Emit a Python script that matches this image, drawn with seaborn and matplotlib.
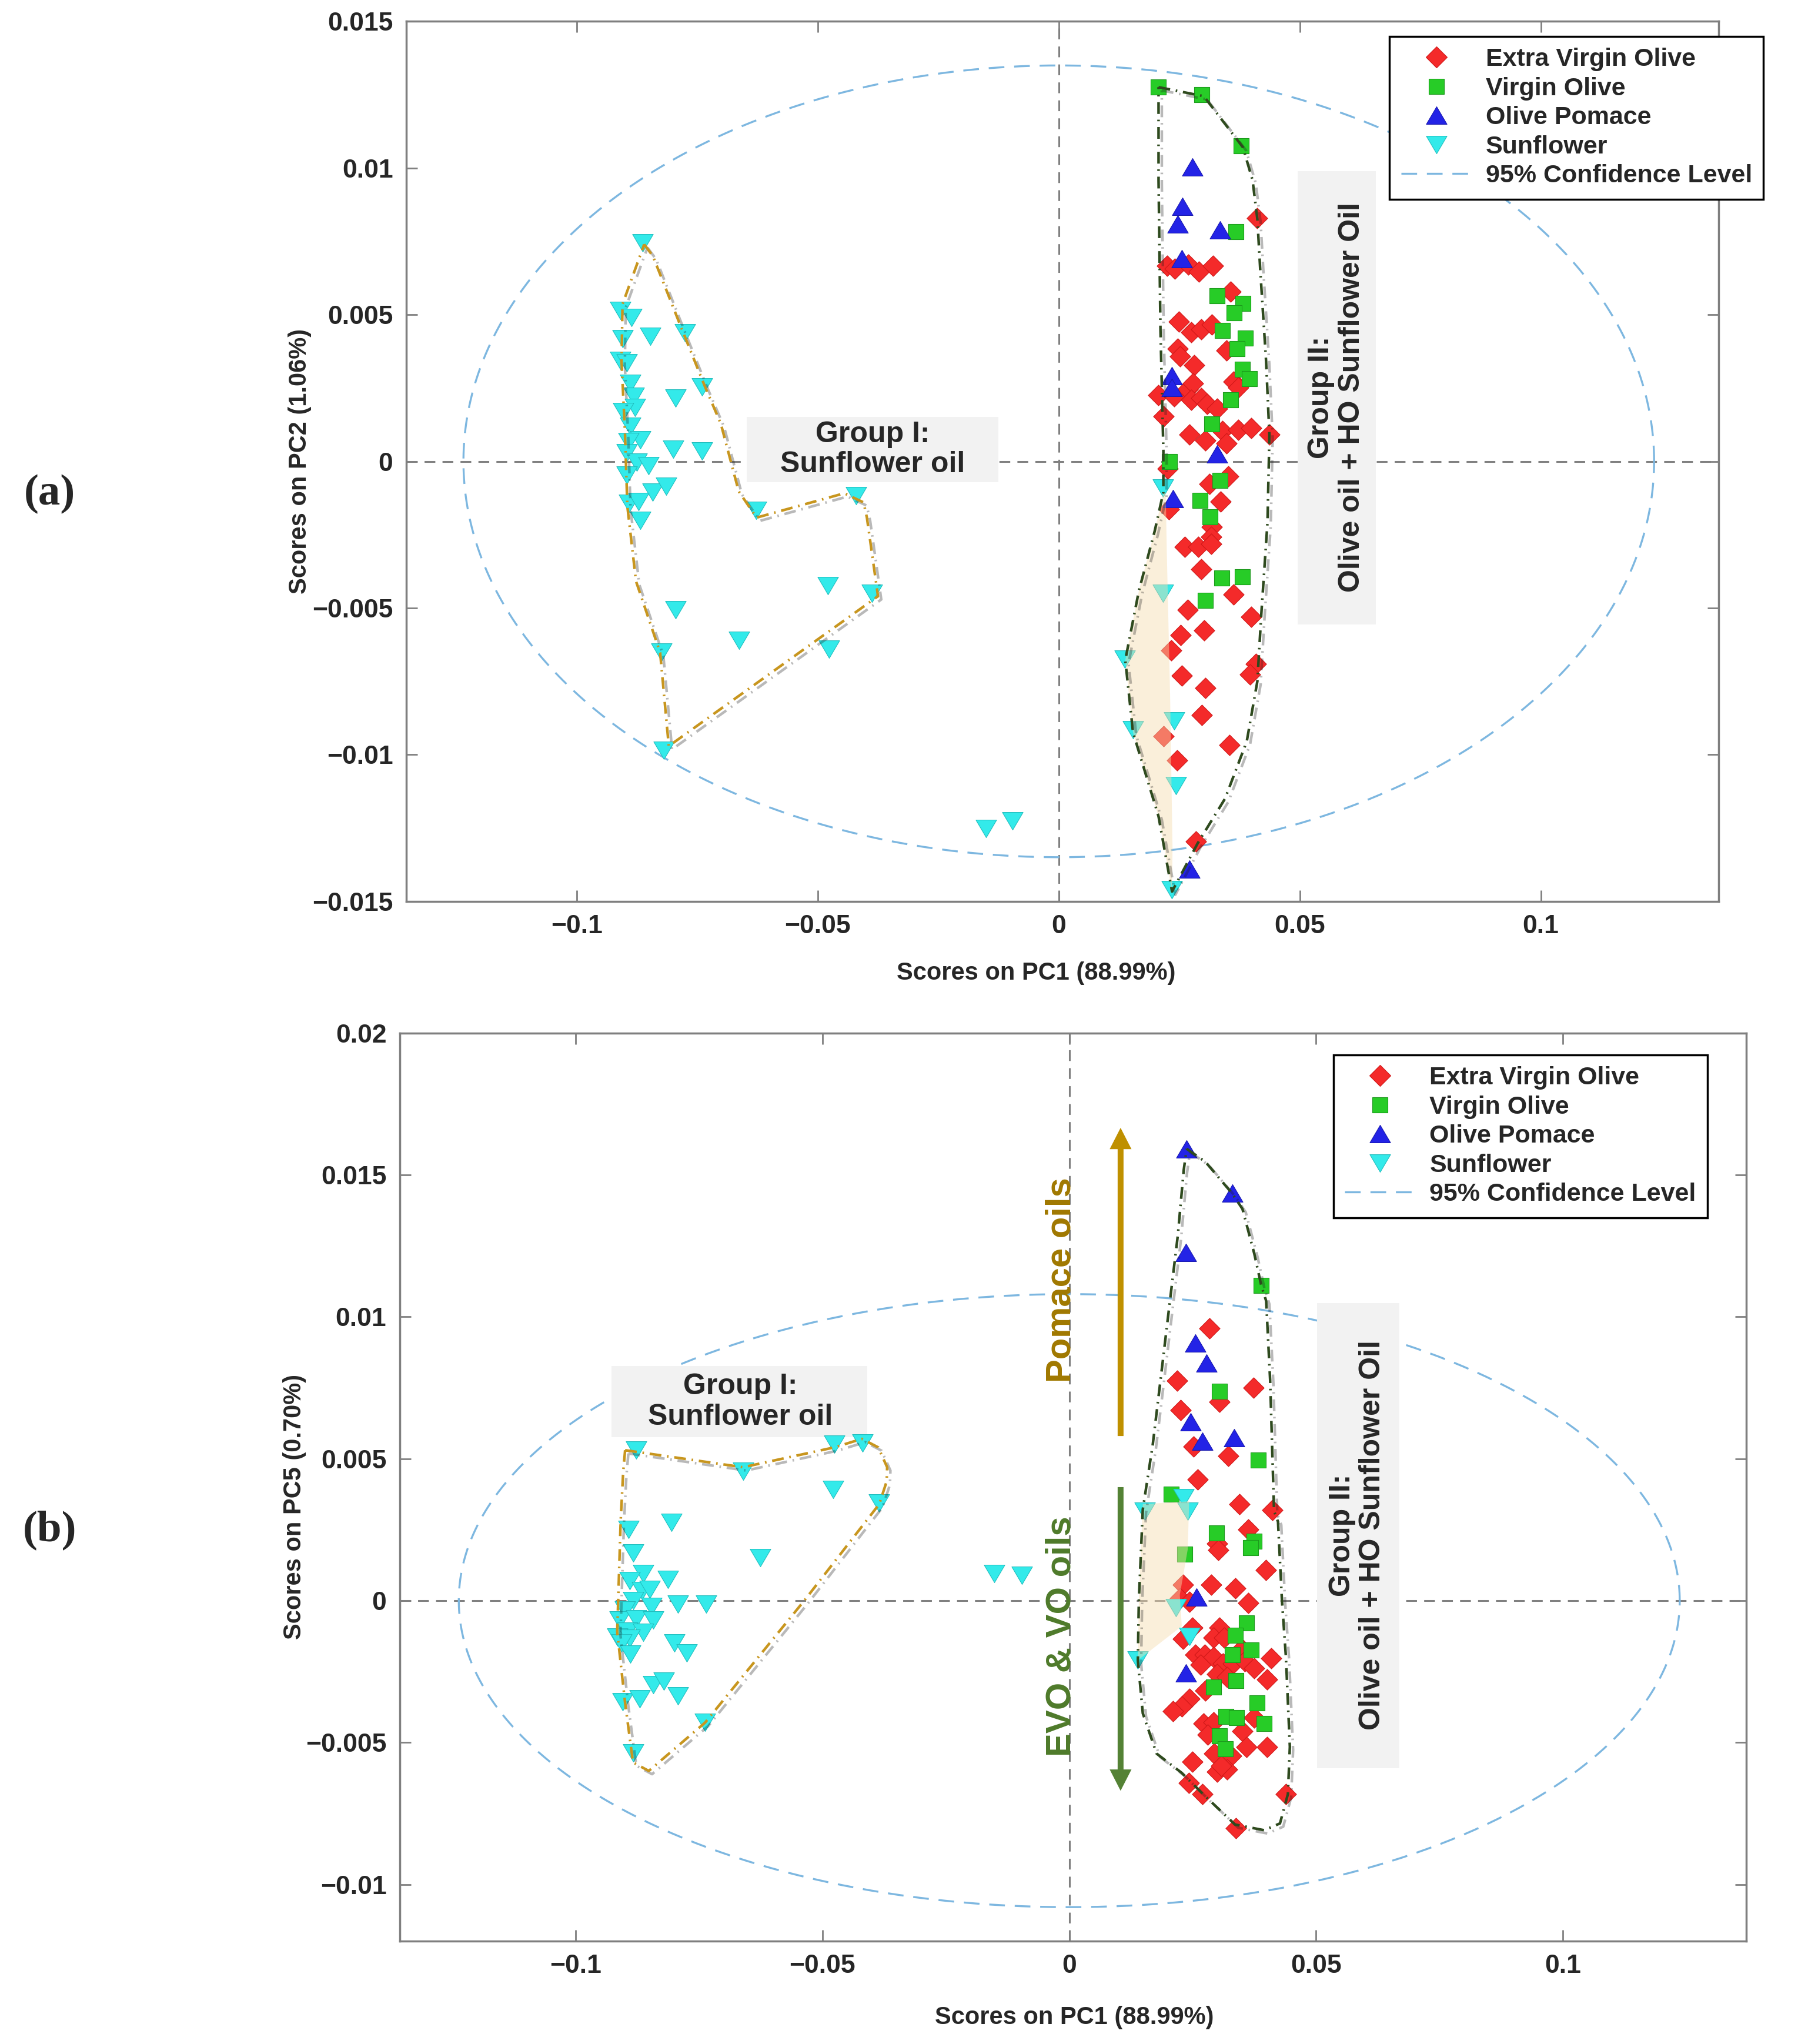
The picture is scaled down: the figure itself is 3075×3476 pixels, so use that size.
import numpy as np
import pandas as pd
import seaborn as sns
import matplotlib.pyplot as plt
import matplotlib.patheffects as pe
from matplotlib.lines import Line2D
from matplotlib.markers import MarkerStyle
from matplotlib.patches import Rectangle

# ---------------- panel (a): PC1 vs PC2 scores ----------------
a_evo = [(0.0411, 0.0083), (0.0225, 0.00666), (0.0241, 0.00656), (0.0269, 0.00671), (0.0291, 0.00646),
         (0.0320, 0.00666), (0.0356, 0.00579), (0.0249, 0.00476), (0.0275, 0.00441), (0.0296, 0.00451),
         (0.0318, 0.00466), (0.0348, 0.00379), (0.0247, 0.00384), (0.0251, 0.00359), (0.0281, 0.00328),
         (0.0362, 0.00272), (0.0372, 0.00251), (0.0206, 0.00226), (0.0239, 0.00221), (0.0267, 0.00246),
         (0.0279, 0.00266), (0.0275, 0.0021), (0.0296, 0.00215), (0.0308, 0.00195), (0.0328, 0.0018),
         (0.0218, 0.00154), (0.0271, 0.00092), (0.0304, 0.00072), (0.0340, 0.00103), (0.0348, 0.00062),
         (0.0372, 0.00108), (0.0399, 0.00113), (0.0437, 0.00092), (0.0226, -0.00025), (0.0312, -0.00077),
         (0.0352, -0.00051), (0.0336, -0.00138), (0.0228, -0.00164), (0.0318, -0.00224), (0.0316, -0.00257),
         (0.0261, -0.00291), (0.0289, -0.00291), (0.0316, -0.00281), (0.0296, -0.00368), (0.0362, -0.00455),
         (0.0267, -0.00506), (0.0399, -0.00531), (0.0302, -0.00577), (0.0253, -0.00593), (0.0233, -0.00644),
         (0.0409, -0.0069), (0.0397, -0.00726), (0.0255, -0.00731), (0.0304, -0.00772), (0.0297, -0.00865),
         (0.0218, -0.00937), (0.0354, -0.00968), (0.0245, -0.01019), (0.0285, -0.01296)]
a_vo = [(0.0206, 0.01276), (0.0297, 0.0125), (0.0378, 0.01076), (0.0368, 0.00784), (0.0328, 0.00564),
        (0.0382, 0.00538), (0.0364, 0.00507), (0.0340, 0.00446), (0.0387, 0.0042), (0.0370, 0.00384),
        (0.0381, 0.00313), (0.0395, 0.00282), (0.0356, 0.0021), (0.0318, 0.00128), (0.0230, 0.0),
        (0.0334, -0.00066), (0.0293, -0.00133), (0.0314, -0.0019), (0.0338, -0.00398), (0.0381, -0.00394),
        (0.0304, -0.00475)]
a_pomace = [(0.0277, 0.01004), (0.0257, 0.0087), (0.0247, 0.0081), (0.0334, 0.0079), (0.0255, 0.0069),
            (0.0235, 0.00292), (0.0235, 0.00251), (0.0328, 0.00026), (0.0237, -0.00128), (0.0271, -0.0139)]
a_sun = [(-0.0863, 0.00745), (-0.0909, 0.00515), (-0.0886, 0.0049), (-0.0775, 0.00439), (-0.0847, 0.00426),
         (-0.0905, 0.00419), (-0.0909, 0.00343), (-0.0896, 0.00336), (-0.0889, 0.00266), (-0.0740, 0.00253),
         (-0.0882, 0.00221), (-0.0795, 0.00215), (-0.0879, 0.00183), (-0.0903, 0.0017), (-0.0889, 0.00119),
         (-0.0868, 0.00074), (-0.0893, 0.00068), (-0.0800, 0.00042), (-0.0740, 0.00036), (-0.0896, 0.00029),
         (-0.0876, -0.00002), (-0.0851, -0.00015), (-0.0896, -0.00047), (-0.0842, -0.00105), (-0.0814, -0.00086),
         (-0.0891, -0.00143), (-0.0872, -0.00137), (-0.0868, -0.00201), (-0.0628, -0.00168), (-0.0421, -0.00118),
         (-0.0479, -0.00424), (-0.0388, -0.0045), (-0.0795, -0.00507), (-0.0663, -0.0061), (-0.0477, -0.0064),
         (-0.0824, -0.0065), (-0.0819, -0.00985), (-0.0151, -0.01253), (-0.0096, -0.01226),
         (0.0216, -0.00092), (0.0216, -0.0045), (0.0137, -0.00675), (0.0239, -0.00885), (0.0154, -0.00916),
         (0.0243, -0.01106), (0.0235, -0.0146)]
a_hull_sun = [(-0.0860, 0.0074), (-0.0842, 0.0070), (-0.0781, 0.00447), (-0.0734, 0.00255), (-0.0701, 0.00128),
              (-0.0664, -0.00102), (-0.0627, -0.00192), (-0.0445, -0.00109), (-0.0405, -0.0014),
              (-0.0398, -0.00192), (-0.0375, -0.0046), (-0.0809, -0.00971), (-0.0827, -0.00652),
              (-0.0877, -0.00409), (-0.0895, -0.00153), (-0.0900, 0.00102), (-0.0907, 0.0034),
              (-0.0905, 0.00536), (-0.0860, 0.0074)]
a_hull_olive = [(0.0207, 0.01276), (0.0301, 0.01245), (0.0382, 0.01071), (0.0402, 0.00959), (0.0412, 0.00826),
                (0.0418, 0.00652), (0.0430, 0.00344), (0.0437, 0.00088), (0.0433, -0.00208), (0.0420, -0.00525),
                (0.0412, -0.0075), (0.0390, -0.00955), (0.0345, -0.0115), (0.0288, -0.01303), (0.0235, -0.01467),
                (0.0207, -0.01211), (0.0154, -0.00924), (0.0138, -0.00678), (0.0166, -0.00443),
                (0.0199, -0.00238), (0.0217, -0.00105), (0.0217, 0.00037), (0.0211, 0.00447),
                (0.0207, 0.00959), (0.0207, 0.01276)]
a_overlap = [(0.0217, -0.00105), (0.0199, -0.00238), (0.0166, -0.00443), (0.0138, -0.00678), (0.0154, -0.00924),
             (0.0207, -0.01211), (0.0235, -0.01467), (0.0236, -0.0132), (0.0231, -0.0080), (0.0224, -0.0030),
             (0.0222, -0.0011)]
a_ellipse = (0.1235, 0.0135)
a_xlim, a_ylim = (-0.1354, 0.1369), (-0.015, 0.015)
a_xticks = [-0.1, -0.05, 0, 0.05, 0.1]
a_yticks = [-0.015, -0.01, -0.005, 0, 0.005, 0.01, 0.015]

# ---------------- panel (b): PC1 vs PC5 scores ----------------
b_evo = [(0.0284, 0.00959), (0.0218, 0.00774), (0.0373, 0.0075), (0.0304, 0.0070), (0.0226, 0.00672),
         (0.0252, 0.00542), (0.0322, 0.0051), (0.0260, 0.00427), (0.0345, 0.00339), (0.0411, 0.0032),
         (0.0363, 0.0025), (0.0300, 0.00202), (0.0302, 0.00178), (0.0399, 0.00107), (0.0230, 0.00056),
         (0.0288, 0.00056), (0.0336, 0.00044), (0.0224, 0.00008), (0.0244, -0.00004), (0.0363, -0.00008),
         (0.0250, -0.00095), (0.0304, -0.00095), (0.0292, -0.00131), (0.0314, -0.00131), (0.0230, -0.00135),
         (0.0256, -0.0019), (0.0274, -0.0019), (0.0292, -0.00198), (0.0350, -0.0017), (0.0409, -0.00202),
         (0.0266, -0.00226), (0.0312, -0.00222), (0.0332, -0.00222), (0.0355, -0.00214), (0.0375, -0.00238),
         (0.0300, -0.00258), (0.0320, -0.0027), (0.0401, -0.00278), (0.0276, -0.00317), (0.0244, -0.00345),
         (0.0228, -0.00373), (0.0210, -0.00389), (0.0272, -0.00432), (0.0292, -0.00428), (0.0375, -0.00412),
         (0.0351, -0.0046), (0.0280, -0.00472), (0.0359, -0.00515), (0.0401, -0.00515), (0.0294, -0.00539),
         (0.0328, -0.00547), (0.0250, -0.00567), (0.0300, -0.00603), (0.0320, -0.00595), (0.0308, -0.00583),
         (0.0242, -0.00642), (0.0270, -0.00682), (0.0439, -0.00682), (0.0338, -0.00801)]
b_vo = [(0.0389, 0.01111), (0.0304, 0.00737), (0.0383, 0.00496), (0.0207, 0.00376), (0.0298, 0.00238),
        (0.0375, 0.0021), (0.0367, 0.00186), (0.0234, 0.00163), (0.0359, -0.00079), (0.0336, -0.00123),
        (0.0330, -0.0019), (0.0369, -0.00174), (0.0338, -0.00282), (0.0292, -0.00305), (0.0381, -0.00361),
        (0.0318, -0.00408), (0.0339, -0.00412), (0.0395, -0.00432), (0.0304, -0.00476), (0.0316, -0.00523)]
b_pomace = [(0.0238, 0.01592), (0.0330, 0.01435), (0.0236, 0.01227), (0.0256, 0.00908), (0.0278, 0.00838),
            (0.0246, 0.0063), (0.0270, 0.00561), (0.0334, 0.00575), (0.0258, 0.00012), (0.0236, -0.00254)]
b_sun = [(-0.0877, 0.0053), (-0.0661, 0.00456), (-0.0476, 0.00551), (-0.0419, 0.00555), (-0.0478, 0.00392),
         (-0.0385, 0.00345), (-0.0806, 0.00276), (-0.0893, 0.0025), (-0.0884, 0.00168), (-0.0626, 0.00151),
         (-0.0863, 0.00095), (-0.0891, 0.0007), (-0.0813, 0.00074), (-0.0866, 0.00035), (-0.0850, 0.0004),
         (-0.0884, 0.00001), (-0.0793, -0.00012), (-0.0736, -0.00012), (-0.0900, -0.00034), (-0.0847, -0.00021),
         (-0.0911, -0.00068), (-0.0877, -0.00064), (-0.0843, -0.00068), (-0.0895, -0.00107), (-0.0863, -0.00111),
         (-0.0916, -0.00128), (-0.0891, -0.00132), (-0.0907, -0.0015), (-0.0800, -0.0015), (-0.0775, -0.00184),
         (-0.0889, -0.00188), (-0.0843, -0.00296), (-0.0822, -0.00283), (-0.0793, -0.00335), (-0.0905, -0.00356),
         (-0.0870, -0.00347), (-0.0738, -0.00429), (-0.0884, -0.00537), (-0.0152, 0.00096), (-0.0096, 0.0009),
         (0.0153, 0.00316), (0.0232, 0.00362), (0.0240, 0.00316), (0.0216, -0.00024), (0.0244, -0.00127),
         (0.0139, -0.0021)]
b_hull_sun = [(-0.0900, 0.0053), (-0.0661, 0.0047), (-0.0476, 0.0054), (-0.0420, 0.0057), (-0.0387, 0.0054),
              (-0.0369, 0.0047), (-0.0370, 0.0042), (-0.0385, 0.0034), (-0.0537, 0.0), (-0.0738, -0.0043),
              (-0.0852, -0.0060), (-0.0884, -0.0057), (-0.0900, -0.0036), (-0.0916, -0.0011), (-0.0909, 0.0028),
              (-0.0904, 0.0045), (-0.0900, 0.0053)]
b_hull_olive = [(0.0238, 0.01592), (0.0276, 0.01546), (0.0330, 0.01435), (0.0351, 0.0138), (0.0375, 0.01222),
                (0.0389, 0.01111), (0.0399, 0.01056), (0.0407, 0.00778), (0.0415, 0.00316), (0.0423, 0.00278),
                (0.0431, 0.0), (0.0439, -0.00198), (0.0447, -0.00515), (0.0443, -0.00682), (0.0427, -0.00785),
                (0.0395, -0.00809), (0.0336, -0.00789), (0.0276, -0.0069), (0.0228, -0.00607), (0.0177, -0.00539),
                (0.0149, -0.00397), (0.0139, -0.0021), (0.0141, 0.0), (0.0149, 0.00321), (0.0169, 0.00547),
                (0.0185, 0.00778), (0.0204, 0.01056), (0.0220, 0.01287), (0.0232, 0.01518), (0.0238, 0.01592)]
b_overlap = [(0.0149, 0.0034), (0.0243, 0.0035), (0.0240, 0.0018), (0.0224, 0.0002), (0.0228, -0.0009),
             (0.0139, -0.0021), (0.0141, 0.0)]
b_ellipse = (0.1237, 0.0108)
b_xlim, b_ylim = (-0.1357, 0.1372), (-0.012, 0.02)
b_xticks = [-0.1, -0.05, 0, 0.05, 0.1]
b_yticks = [-0.01, -0.005, 0, 0.005, 0.01, 0.015, 0.02]

oil_order = ['evo', 'vo', 'pomace', 'sun']
oil_labels = ['Extra Virgin Olive', 'Virgin Olive', 'Olive Pomace', 'Sunflower', '95% Confidence Level']

# ---------------- styling ----------------
tri_up = MarkerStyle([(0, 0.85), (-1, -0.85), (1, -0.85), (0, 0.85)])
tri_down = MarkerStyle([(0, -0.85), (-1, 0.85), (1, 0.85), (0, -0.85)])
MARKERS = {'evo': 'D', 'vo': 's', 'pomace': tri_up, 'sun': tri_down}
COLORS = {'evo': '#F42A2A', 'vo': '#27CC27', 'pomace': '#2323E6', 'sun': '#33EAEA'}
EDGES = {'evo': '#D01818', 'vo': '#1C9A1C', 'pomace': '#1A1AB0', 'sun': '#22BFBF'}
SIZES = {'evo': 320, 'vo': 330, 'pomace': 640, 'sun': 640}
ELL_COLOR = '#7DB7E0'
ELL_LS = (0, (8, 5))
HULL_LS = (0, (4.5, 2.2, 0.6, 2.2))

sns.set_theme(style='ticks')
plt.rcParams['font.family'] = ['Liberation Sans', 'DejaVu Sans']
plt.rcParams['font.weight'] = 'bold'
plt.rcParams['axes.labelweight'] = 'bold'

fig = plt.figure(figsize=(30.75, 34.76), dpi=100)
ax_a = fig.add_axes([0.2246, 0.5591, 0.7260, 0.4304])
ax_b = fig.add_axes([0.2210, 0.0503, 0.7449, 0.4443])


def fmt(v):
    return format(v, 'g').replace('-', '\u2212')


def draw_panel(ax, groups, ellipse, hull_sun, hull_olive, overlap, xlim, ylim, xticks, yticks):
    ax.axhline(0, color='#808080', lw=2.2, ls=(0, (6, 4)), zorder=1)
    ax.axvline(0, color='#808080', lw=2.2, ls=(0, (6, 4)), zorder=1)

    t = np.linspace(0, 2 * np.pi, 500)
    ax.plot(ellipse[0] * np.cos(t), ellipse[1] * np.sin(t), color=ELL_COLOR, lw=2.4, ls=ELL_LS, zorder=2)

    for key in oil_order:
        df = pd.DataFrame(groups[key], columns=['pc1', 'pcn'])
        sns.scatterplot(data=df, x='pc1', y='pcn', marker=MARKERS[key], color=COLORS[key],
                        edgecolor=EDGES[key], linewidth=0.8, s=SIZES[key], ax=ax, zorder=4, legend=False)

    ov = np.array(overlap)
    ax.fill(ov[:, 0], ov[:, 1], color='#F6DCAF', alpha=0.45, lw=0, zorder=5)

    shadow = [pe.SimpleLineShadow(offset=(4, -4), shadow_color='k', alpha=0.3), pe.Normal()]
    hs = np.array(hull_sun)
    ax.plot(hs[:, 0], hs[:, 1], color='#C8961E', lw=3.2, ls=HULL_LS, zorder=6, path_effects=shadow)
    ho = np.array(hull_olive)
    ax.plot(ho[:, 0], ho[:, 1], color='#2E4A1E', lw=3.2, ls=HULL_LS, zorder=6, path_effects=shadow)

    ax.set_xlim(*xlim)
    ax.set_ylim(*ylim)
    ax.set_xticks(xticks, [fmt(v) for v in xticks])
    ax.set_yticks(yticks, [fmt(v) for v in yticks])
    ax.tick_params(direction='in', length=14, width=2, color='#808080', top=True, right=True,
                   labelsize=32, pad=16)
    for sp in ax.spines.values():
        sp.set_color('#7F7F7F')
        sp.set_linewidth(2.5)


def add_legend(ax, anchor):
    handles = [Line2D([], [], ls='none', marker=MARKERS[k], markersize=np.sqrt(SIZES[k]),
                      markerfacecolor=COLORS[k], markeredgecolor=EDGES[k], markeredgewidth=0.8)
               for k in oil_order]
    handles.append(Line2D([], [], color=ELL_COLOR, lw=2.4, ls=ELL_LS))
    leg = ax.legend(handles, oil_labels, loc='upper left', bbox_to_anchor=anchor,
                    bbox_transform=fig.transFigure, prop={'size': 31, 'weight': 'bold'},
                    frameon=True, fancybox=False, edgecolor='black', framealpha=1,
                    handlelength=2.8, handletextpad=0.55, labelspacing=0.22, borderpad=0.45, borderaxespad=0)
    leg.get_frame().set_linewidth(2.5)
    leg.set_zorder(10)


def add_box(ax, x0, x1, y0, y1):
    ax.add_patch(Rectangle((x0, y0), x1 - x0, y1 - y0, facecolor='#F2F2F2', edgecolor='none', zorder=2))


# ---- panel (a)
draw_panel(ax_a, {'evo': a_evo, 'vo': a_vo, 'pomace': a_pomace, 'sun': a_sun}, a_ellipse,
           a_hull_sun, a_hull_olive, a_overlap, a_xlim, a_ylim, a_xticks, a_yticks)
add_box(ax_a, -0.0647, -0.0125, -0.00071, 0.00151)
ax_a.text(-0.0386, 0.0004, 'Group I:\nSunflower oil', ha='center', va='center', fontsize=36,
          linespacing=1.15, zorder=3)
add_box(ax_a, 0.0495, 0.0658, -0.00557, 0.00989)
ax_a.text(0.0576, 0.00218, 'Group II:\nOlive oil + HO Sunflower Oil', ha='center', va='center',
          rotation=90, fontsize=36, linespacing=1.15, multialignment='center', zorder=3)
ax_a.set_xlabel('Scores on PC1 (88.99%)', fontsize=30)
ax_a.set_ylabel('Scores on PC2 (1.06%)', fontsize=30)
ax_a.xaxis.set_label_coords(0.48, -0.0685)
ax_a.yaxis.set_label_coords(-0.072, 0.5)
add_legend(ax_a, (0.7685, 0.9822))

# ---- panel (b)
draw_panel(ax_b, {'evo': b_evo, 'vo': b_vo, 'pomace': b_pomace, 'sun': b_sun}, b_ellipse,
           b_hull_sun, b_hull_olive, b_overlap, b_xlim, b_ylim, b_xticks, b_yticks)
add_box(ax_b, -0.0927, -0.0409, 0.00577, 0.00826)
ax_b.text(-0.0667, 0.0070, 'Group I:\nSunflower oil', ha='center', va='center', fontsize=36,
          linespacing=1.15, zorder=3)
add_box(ax_b, 0.0502, 0.0669, -0.00591, 0.01048)
ax_b.text(0.0584, 0.0023, 'Group II:\nOlive oil + HO Sunflower Oil', ha='center', va='center',
          rotation=90, fontsize=36, linespacing=1.15, multialignment='center', zorder=3)

arrow_kw = 'simple,head_length=0.87,head_width=0.89,tail_width=0.24'
ax_b.annotate('', xy=(0.0104, 0.01666), xytext=(0.0104, 0.0058),
              arrowprops=dict(arrowstyle=arrow_kw, mutation_scale=30, color='#BF9000', lw=0,
                              shrinkA=0, shrinkB=0), zorder=3)
ax_b.annotate('', xy=(0.0104, -0.0067), xytext=(0.0104, 0.0040),
              arrowprops=dict(arrowstyle=arrow_kw, mutation_scale=30, color='#548235', lw=0,
                              shrinkA=0, shrinkB=0), zorder=3)
ax_b.text(-0.0016, 0.0113, 'Pomace oils', rotation=90, ha='center', va='center', fontsize=43,
          color='#A07800', zorder=3)
ax_b.text(-0.0016, -0.00126, 'EVO & VO oils', rotation=90, ha='center', va='center', fontsize=43,
          color='#4E7A2A', zorder=3)
ax_b.set_xlabel('Scores on PC1 (88.99%)', fontsize=30)
ax_b.set_ylabel('Scores on PC5 (0.70%)', fontsize=30)
ax_b.xaxis.set_label_coords(0.5009, -0.0712)
ax_b.yaxis.set_label_coords(-0.0693, 0.4786)
add_legend(ax_b, (0.7375, 0.4839))

fig.text(0.0276, 0.7583, '(a)', ha='center', va='center', fontsize=54,
         family=['Liberation Serif', 'DejaVu Serif'], weight='bold')
fig.text(0.0276, 0.2514, '(b)', ha='center', va='center', fontsize=54,
         family=['Liberation Serif', 'DejaVu Serif'], weight='bold')

fig.savefig('out.png', dpi=100, facecolor='white')
